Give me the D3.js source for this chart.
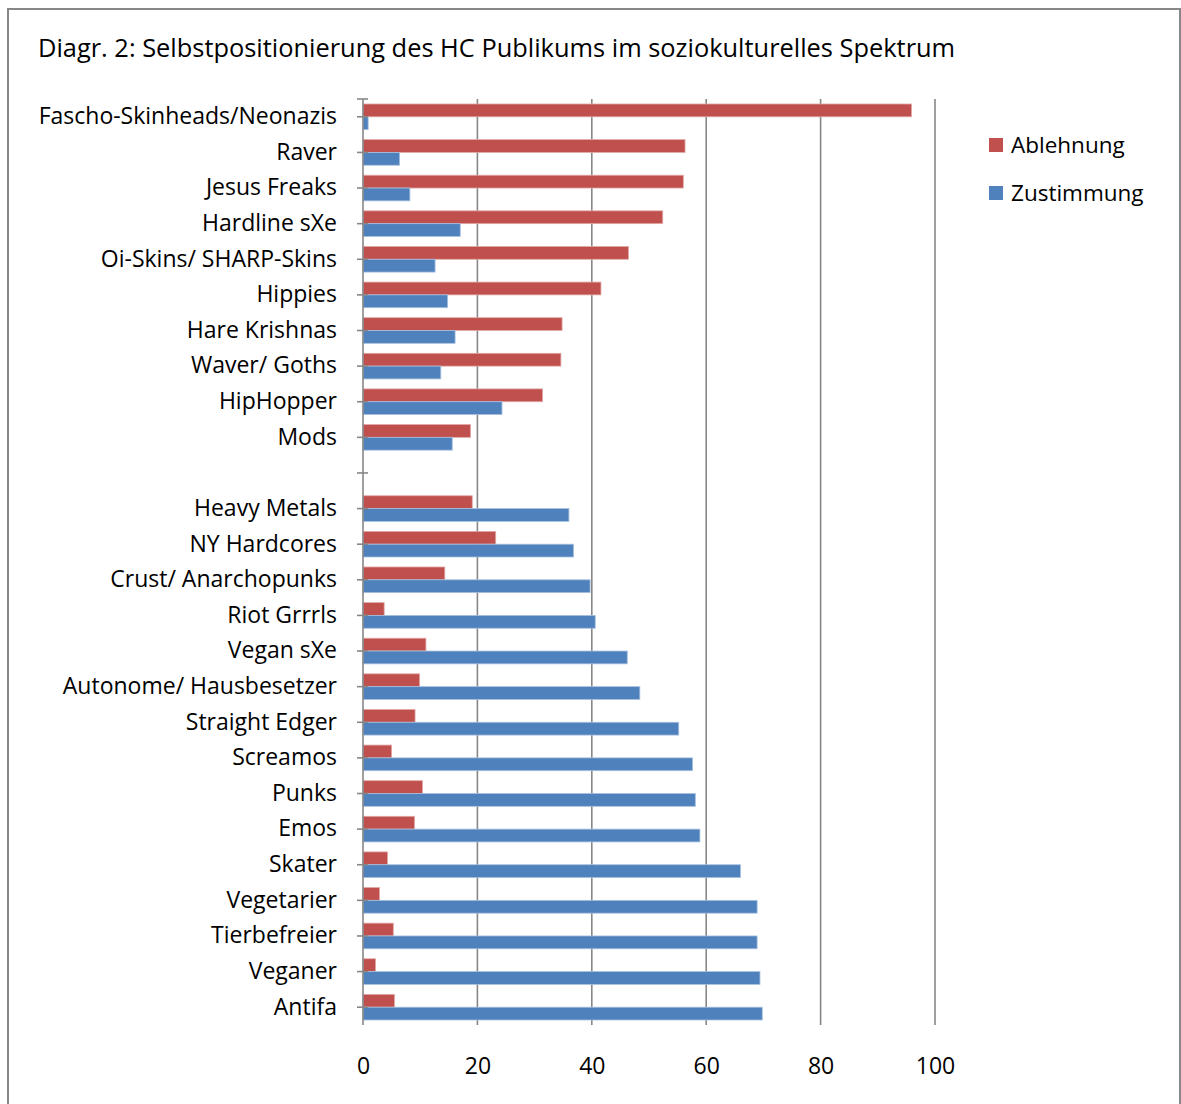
<!DOCTYPE html>
<html>
<head>
<meta charset="utf-8">
<script src="https://cdn.jsdelivr.net/npm/d3@7"></script>
<style>
  body { margin: 0; background: #fff; }
  svg text { font-family: "Open Sans", "Noto Sans", sans-serif; fill: #000; }
</style>
</head>
<body>
<svg id="chart" width="1181" height="1104"></svg>
<script>
// Chart data
const categories = [
  "Fascho-Skinheads/Neonazis", "Raver", "Jesus Freaks", "Hardline sXe",
  "Oi-Skins/ SHARP-Skins", "Hippies", "Hare Krishnas", "Waver/ Goths",
  "HipHopper", "Mods", " ",
  "Heavy Metals", "NY Hardcores", "Crust/ Anarchopunks", "Riot Grrrls",
  "Vegan sXe", "Autonome/ Hausbesetzer", "Straight Edger", "Screamos",
  "Punks", "Emos", "Skater", "Vegetarier", "Tierbefreier", "Veganer", "Antifa"
];
const ablehnung = [
  95.9, 56.3, 56.0, 52.4, 46.4, 41.6, 34.8, 34.6, 31.4, 18.8, null,
  19.1, 23.2, 14.3, 3.7, 11.0, 9.9, 9.1, 5.0, 10.4, 9.0, 4.3, 2.9, 5.3, 2.2, 5.5
];
const zustimmung = [
  0.9, 6.4, 8.2, 17.0, 12.6, 14.8, 16.1, 13.6, 24.3, 15.6, null,
  36.0, 36.8, 39.7, 40.6, 46.2, 48.4, 55.2, 57.6, 58.1, 58.9, 66.0, 68.9, 68.9, 69.4, 69.8
];
const seriesNames = ["Ablehnung", "Zustimmung"];
const seriesColors = ["#C0504D", "#4F81BD"];
const xTicks = [0, 20, 40, 60, 80, 100];

const svg = d3.select("#chart");

// Outer chart frame
svg.append("rect")
  .attr("x", 8).attr("y", 9)
  .attr("width", 1172).attr("height", 1110)
  .attr("fill", "#fff")
  .attr("stroke", "#878787")
  .attr("stroke-width", 2);

svg.append("text")
  .attr("x", 38).attr("y", 57)
  .style("font-size", "25.4px")
  .text("Diagr. 2: Selbstpositionierung des HC Publikums im soziokulturelles Spektrum");

const plot = { left: 363, right: 935, top: 99, bottom: 1025 };

const x = d3.scaleLinear().domain([0, 100]).range([plot.left, plot.right]);
const y = d3.scaleBand().domain(categories).range([plot.top, plot.bottom]).padding(0);
const ySub = d3.scaleBand().domain(seriesNames).range([0, y.bandwidth()])
  .paddingInner(0).paddingOuter(0.39);

// Vertical gridlines
svg.append("g")
  .selectAll("line")
  .data(xTicks.filter(d => d > 0))
  .join("line")
  .attr("x1", d => x(d)).attr("x2", d => x(d))
  .attr("y1", plot.top).attr("y2", plot.bottom)
  .attr("stroke", "#878787")
  .attr("stroke-width", 1.6);

// Bars
const rows = categories.map((c, i) => ({ cat: c, values: [ablehnung[i], zustimmung[i]] }));
const groups = svg.append("g")
  .selectAll("g")
  .data(rows)
  .join("g")
  .attr("transform", d => `translate(0,${y(d.cat)})`);

groups.selectAll("rect")
  .data(d => d.values.map((v, k) => ({ v, k })).filter(e => e.v !== null))
  .join("rect")
  .attr("x", x(0))
  .attr("y", e => ySub(seriesNames[e.k]))
  .attr("width", e => x(e.v) - x(0))
  .attr("height", ySub.bandwidth())
  .attr("fill", e => seriesColors[e.k])
  .attr("stroke", e => e.k === 0 ? "#E0A8A6" : "#A7C0DE")
  .attr("stroke-width", 0.8);

// Category axis
const yAxis = d3.axisLeft(y).tickSizeInner(6).tickSizeOuter(0).tickPadding(20);
const yg = svg.append("g")
  .attr("transform", `translate(${plot.left},0)`)
  .call(yAxis);
yg.select(".domain").remove();
yg.selectAll(".tick line").attr("x1", 5).attr("stroke", "#878787").attr("stroke-width", 1.6);
yg.selectAll(".tick text").style("font-size", "23px").attr("font-family", null);
yg.append("line")
  .attr("x1", 0).attr("x2", 0)
  .attr("y1", plot.top).attr("y2", plot.bottom)
  .attr("stroke", "#878787").attr("stroke-width", 1.6);
yg.append("line")
  .attr("x1", -6).attr("x2", 5)
  .attr("y1", plot.top).attr("y2", plot.top)
  .attr("stroke", "#878787").attr("stroke-width", 1.6);

// Value axis labels
const xAxis = d3.axisBottom(x).tickValues(xTicks).tickSize(0).tickPadding(33);
const xg = svg.append("g")
  .attr("transform", `translate(0,${plot.bottom})`)
  .call(xAxis);
xg.select(".domain").remove();
xg.selectAll(".tick text").style("font-size", "23px").attr("font-family", null);

// Legend
const legend = svg.append("g")
  .selectAll("g")
  .data(seriesNames)
  .join("g")
  .attr("transform", (d, i) => `translate(989,${138 + i * 48})`);
legend.append("rect")
  .attr("width", 14).attr("height", 14)
  .attr("fill", (d, i) => seriesColors[i]);
legend.append("text")
  .attr("x", 22).attr("y", 7)
  .attr("dy", "0.35em")
  .style("font-size", "22.5px")
  .text(d => d);
</script>
</body>
</html>
